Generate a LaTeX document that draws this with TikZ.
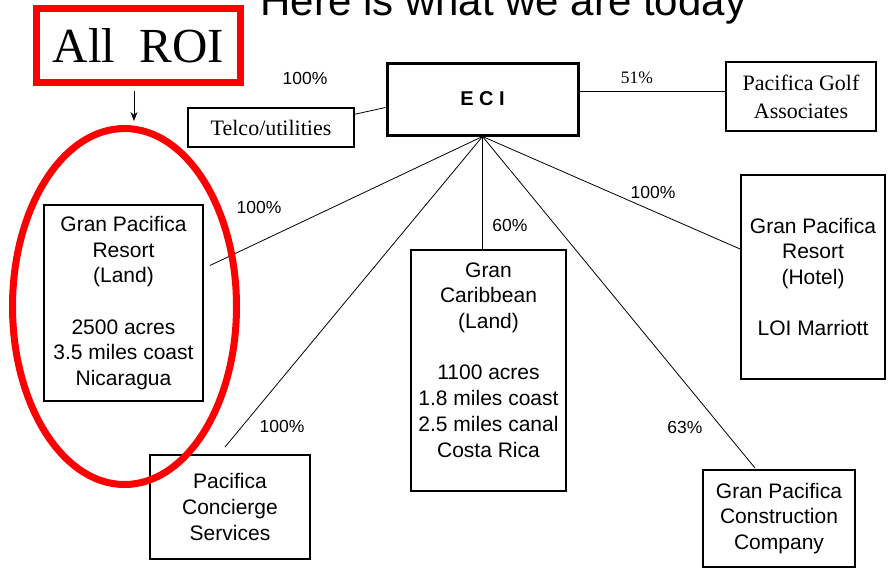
\documentclass[tikz,border=0pt]{standalone}
\usepackage{fontspec}
\setmainfont{Liberation Serif}
\setsansfont{Liberation Sans}
\usetikzlibrary{calc,shapes.geometric,arrows.meta}

\begin{document}
\begin{tikzpicture}[x=1pt,y=-1pt,
    unit/.style={draw, line width=2pt, align=center, inner sep=0pt, font=\sffamily\fontsize{21}{25.7}\selectfont},
    serifunit/.style={unit, font=\rmfamily\fontsize{22}{28}\selectfont},
    share/.style={font=\sffamily\fontsize{17.5}{20}\selectfont},
    link/.style={line width=0.8pt},
    focus/.style={draw=red, line width=7pt}]
			%%%%% START %%%%%
			\useasboundingbox (0,0) rectangle (890,571);
			
			\node[anchor=base west, font=\sffamily\fontsize{42}{48}\selectfont] (title) at (257,15) {Here is what we are today};
			
			% top row
			\node[unit, line width=3pt, minimum width=191pt, minimum height=72pt, font=\sffamily\bfseries\fontsize{20}{24}\selectfont] (eci) at (482.5,99) {E C I};
			\node[serifunit, minimum width=166pt, minimum height=39pt] (telco) at (271,127.5) {Telco/utilities};
			\node[serifunit, minimum width=150pt, minimum height=69pt] (golf) at (801,96.5) {Pacifica Golf\\Associates};
			
			% subsidiaries
			\node[unit, minimum width=159pt, minimum height=196pt] (land) at (123.5,303) {Gran Pacifica\\Resort\\(Land)\\ \\2500 acres\\3.5 miles coast\\Nicaragua};
			\node[unit, minimum width=160pt, minimum height=104pt] (concierge) at (230,507) {Pacifica\\Concierge\\Services};
			\node[unit, minimum width=155pt, minimum height=241pt] (carib) at (488.5,370.5) {Gran\\Caribbean\\(Land)\\ \\1100 acres\\1.8 miles coast\\2.5 miles canal\\Costa Rica\\[-12pt]\strut};
			\node[unit, minimum width=144pt, minimum height=204pt] (hotel) at (813,277) {Gran Pacifica\\Resort\\(Hotel)\\ \\LOI Marriott};
			\node[unit, minimum width=152pt, minimum height=97pt] (constr) at (779,518.5) {Gran Pacifica\\Construction\\Company};
			
			% ownership lines
			\draw[link] (telco.9) -- (eci.185);
			\draw[link] ($(eci.east)+(0,-8)$) -- ($(golf.west)+(0,-5.5)$);
			\draw[link] (eci.south) -- ($(land.25)+(6,0)$);
			\draw[link] (eci.south) -- ($(concierge.north)+(-5,-7)$);
			\draw[link] (eci.south) -- (eci.south |- carib.north);
			\draw[link] (eci.south) -- (hotel.159);
			\draw[link] (eci.south) -- ($(constr.north)+(-24,-1)$);
			
			% percentages
			\node[share] (p-telco) at (305,78) {100\%};
			\node[share, font=\rmfamily\fontsize{17.5}{20}\selectfont] (p-golf) at (637,78) {51\%};
			\node[share] (p-land) at (259,207) {100\%};
			\node[share] (p-concierge) at (282,426) {100\%};
			\node[share] (p-carib) at (510,225) {60\%};
			\node[share] (p-hotel) at (653,192) {100\%};
			\node[share] (p-constr) at (685,427) {63\%};
			
			% all ROI
			\node[focus, minimum width=204pt, minimum height=74pt, inner sep=0pt, font=\rmfamily\fontsize{49}{56}\selectfont] (roi) at (138.5,45.5) {All~ ROI};
			\node[focus, ellipse, minimum width=224pt, minimum height=356pt, inner sep=0pt] (ring) at (124.5,306.5) {};
			\draw[line width=0.9pt, -{Stealth[length=9pt,width=7pt]}] ($(roi.south)+(-4.5,5)$) -- ($(ring.north)+(9.5,-4)$);
			
			%%%%% END %%%%%
\end{tikzpicture}
\end{document}
